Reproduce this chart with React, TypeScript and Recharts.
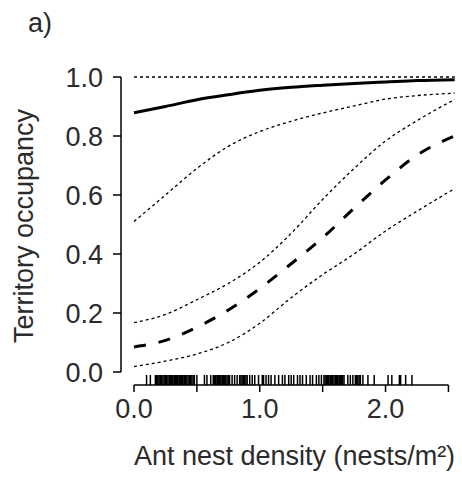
import React from "react"
import {
  ComposedChart,
  Line,
  Scatter,
  XAxis,
  YAxis,
  ReferenceLine,
} from "recharts"

// ant nest density grid (nests/m2)
const density = [0, 0.25, 0.5, 0.75, 1.0, 1.25, 1.5, 1.75, 2.0, 2.25, 2.55]

// occupancy curve, high (solid) and its lower / upper limits
const highFit = [0.879, 0.9, 0.923, 0.94, 0.955, 0.965, 0.972, 0.978, 0.983, 0.988, 0.991]
const highLower = [0.51, 0.6, 0.69, 0.765, 0.815, 0.85, 0.878, 0.902, 0.925, 0.937, 0.945]
const highUpper = [1, 1, 1, 1, 1, 1, 1, 1, 1, 1, 1]

// occupancy curve, low (dashed) and its limits
const lowFit = [0.085, 0.107, 0.152, 0.21, 0.283, 0.367, 0.455, 0.555, 0.651, 0.735, 0.8]
const lowLower = [0.018, 0.037, 0.061, 0.1, 0.165, 0.252, 0.33, 0.4, 0.478, 0.545, 0.622]
const lowUpper = [0.167, 0.195, 0.245, 0.3, 0.372, 0.47, 0.585, 0.69, 0.783, 0.852, 0.924]

// observed nest densities (rug)
const observed = [
  0.1, 0.13, 0.17, 0.18, 0.185, 0.19, 0.2, 0.21, 0.215, 0.22, 0.23, 0.24, 0.25, 0.26,
  0.27, 0.28, 0.29, 0.3, 0.305, 0.31, 0.32, 0.33, 0.34, 0.345, 0.35, 0.36, 0.37, 0.38,
  0.385, 0.39, 0.4, 0.41, 0.42, 0.43, 0.44, 0.45, 0.46, 0.47, 0.48, 0.5, 0.56, 0.58,
  0.61, 0.63, 0.635, 0.64, 0.65, 0.66, 0.665, 0.67, 0.68, 0.69, 0.7, 0.705, 0.71, 0.72,
  0.73, 0.74, 0.75, 0.76, 0.78, 0.8, 0.82, 0.84, 0.85, 0.86, 0.87, 0.88, 0.89, 0.9,
  0.92, 0.94, 0.96, 0.99, 1.02, 1.03, 1.05, 1.07, 1.09, 1.12, 1.15, 1.18, 1.2, 1.23,
  1.25, 1.27, 1.3, 1.32, 1.34, 1.37, 1.4, 1.42, 1.45, 1.47, 1.49, 1.51, 1.52, 1.53,
  1.54, 1.545, 1.55, 1.56, 1.565, 1.57, 1.58, 1.59, 1.6, 1.605, 1.61, 1.62, 1.63,
  1.635, 1.64, 1.65, 1.66, 1.67, 1.7, 1.72, 1.74, 1.76, 1.77, 1.78, 1.79, 1.8, 1.82,
  1.86, 1.91, 2.02, 2.05, 2.11, 2.12, 2.16, 2.21,
]

const xTicks = [0, 0.5, 1, 1.5, 2, 2.5]
const xLabelled = [0, 1, 2]
const yTicks = [0, 0.2, 0.4, 0.6, 0.8, 1.0]

const FONT = "'Liberation Sans', Arial, sans-serif"
const INK = "#2b2b2b"

const toSeries = (ys: number[]) => density.map((x, i) => ({ x, y: ys[i] }))
const rugData = observed.map((x) => ({ x, y: 0 }))

const XTick = (props: any) => {
  const { x, y, payload } = props
  const v = payload.value as number
  return (
    <g>
      <line x1={x} y1={y + 13} x2={x} y2={y + 20} stroke="#000" strokeWidth={1.5} />
      {xLabelled.includes(v) && (
        <text x={x} y={y + 46} textAnchor="middle" fontSize={27} fontFamily={FONT} fill={INK}>
          {v.toFixed(1)}
        </text>
      )}
    </g>
  )
}

const RugMark = (props: any) => (
  <line x1={props.cx} y1={props.cy + 3} x2={props.cx} y2={props.cy + 13} stroke="#000" strokeWidth={1.5} />
)

export default function App() {
  return (
    <div style={{ position: "absolute", left: 0, top: 0, background: "#fff" }}>
      <ComposedChart width={462} height={484} margin={{ top: 77, right: 1, bottom: 0, left: 0 }}>
        <XAxis
          type="number"
          dataKey="x"
          domain={[0, 2.6]}
          ticks={xTicks}
          padding={{ left: 13, right: 0 }}
          axisLine={false}
          tickLine={false}
          tickSize={0}
          tickMargin={0}
          tick={<XTick />}
          height={112}
          label={{
            content: () => (
              <g>
                <text x={134} y={465} fontSize={27} fontFamily={FONT} fill={INK}>
                  Ant nest density (nests/m²)
                </text>
                <text x={28} y={32} fontSize={27} fontFamily={FONT} fill={INK}>
                  a)
                </text>
              </g>
            ),
          }}
        />
        <YAxis
          type="number"
          dataKey="y"
          domain={[0, 1]}
          ticks={yTicks}
          width={121}
          tickSize={8}
          tickMargin={10}
          axisLine={{ stroke: "#000", strokeWidth: 1.5 }}
          tickLine={{ stroke: "#000", strokeWidth: 1.5 }}
          tick={{ fontSize: 27, fontFamily: FONT, fill: INK }}
          tickFormatter={(v: number) => v.toFixed(1)}
          label={{
            content: () => (
              <text
                x={33}
                y={226}
                transform="rotate(-90 33 226)"
                textAnchor="middle"
                fontSize={27}
                fontFamily={FONT}
                fill={INK}
              >
                Territory occupancy
              </text>
            ),
          }}
        />
        <ReferenceLine
          segment={[{ x: 0, y: 0 }, { x: 2.5, y: 0 }]}
          shape={(p: any) => (
            <line x1={p.x1} y1={p.y1 + 13} x2={p.x2} y2={p.y2 + 13} stroke="#000" strokeWidth={1.5} />
          )}
        />
        <Line data={toSeries(highUpper)} dataKey="y" type="monotone" stroke="#000" strokeWidth={1.3} strokeDasharray="3 3" dot={false} isAnimationActive={false} />
        <Line data={toSeries(highLower)} dataKey="y" type="monotone" stroke="#000" strokeWidth={1.3} strokeDasharray="3 3" dot={false} isAnimationActive={false} />
        <Line data={toSeries(highFit)} dataKey="y" type="monotone" stroke="#000" strokeWidth={3} dot={false} isAnimationActive={false} />
        <Line data={toSeries(lowUpper)} dataKey="y" type="monotone" stroke="#000" strokeWidth={1.3} strokeDasharray="3 3" dot={false} isAnimationActive={false} />
        <Line data={toSeries(lowLower)} dataKey="y" type="monotone" stroke="#000" strokeWidth={1.3} strokeDasharray="3 3" dot={false} isAnimationActive={false} />
        <Line data={toSeries(lowFit)} dataKey="y" type="monotone" stroke="#000" strokeWidth={3} strokeDasharray="12 13" dot={false} isAnimationActive={false} />
        <Scatter data={rugData} dataKey="y" shape={<RugMark />} isAnimationActive={false} />
      </ComposedChart>
    </div>
  )
}
